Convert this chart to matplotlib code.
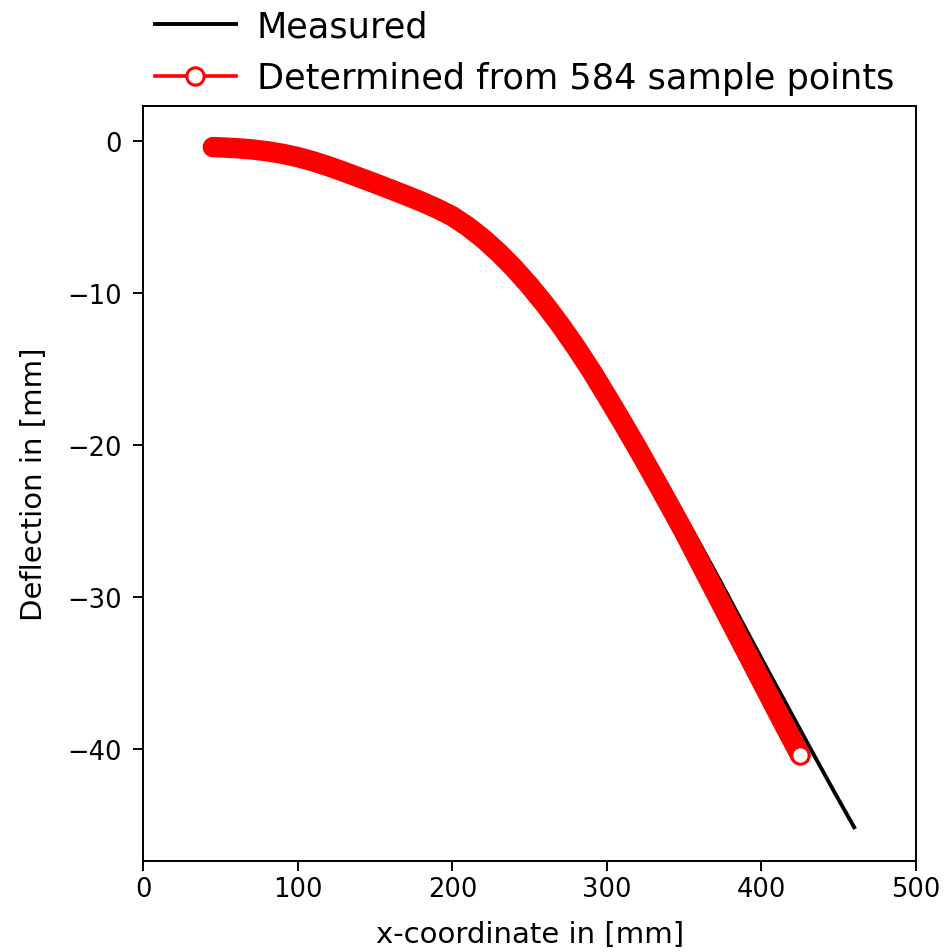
import numpy as np
import matplotlib
matplotlib.use("Agg")
import matplotlib.pyplot as plt
from matplotlib.lines import Line2D

# measured deflection line
measured_x = [45, 50, 60, 70, 80, 90, 100, 110, 120, 130, 140, 150, 160, 170,
              180, 190, 200, 210, 220, 230, 240, 250, 260, 270, 280, 291, 302,
              313, 324.5, 340, 356, 372, 387.3, 403, 418.5, 434, 447, 460]
measured_y = [-0.40, -0.42, -0.47, -0.55, -0.67, -0.84, -1.06, -1.34, -1.67,
              -2.03, -2.41, -2.79, -3.18, -3.58, -3.99, -4.44, -4.95, -5.63,
              -6.43, -7.35, -8.38, -9.52, -10.77, -12.12, -13.58, -15.13, -16.75,
              -18.4, -20.25, -22.95, -25.74, -28.7, -31.62, -34.6, -37.5,
              -40.4, -42.8, -45.15]

# curve determined from the sample points
determined_x = [45, 50, 60, 70, 80, 90, 100, 110, 120, 130, 140, 150, 160, 170,
                180, 190, 200, 210, 220, 230, 240, 250, 260, 270, 280, 290, 300,
                310, 320, 330, 340, 350, 360, 370, 380, 390, 400, 410, 425]
determined_y = [-0.40, -0.42, -0.47, -0.55, -0.67, -0.84, -1.06, -1.34, -1.67,
                -2.03, -2.41, -2.79, -3.18, -3.58, -3.99, -4.44, -4.95, -5.63,
                -6.43, -7.35, -8.38, -9.52, -10.77, -12.12, -13.58, -15.13, -16.8,
                -18.5, -20.25, -22.05, -23.88, -25.74, -27.7, -29.66, -31.62,
                -33.58, -35.54, -37.5, -40.4]

n_samples = 584

DPI = 100
fig = plt.figure(figsize=(9.49, 9.53), dpi=DPI)
ax = fig.add_axes([0.151, 0.0958, 0.9652 - 0.151, 0.888 - 0.0958])

ax.plot(measured_x, measured_y, color="black", lw=2.8, zorder=2)

# dense markers in the original merge into a solid band
ax.plot(determined_x, determined_y, color="red", lw=14.7,
        solid_capstyle="round", solid_joinstyle="round", zorder=3)
ax.plot(determined_x[-1:], determined_y[-1:], "o", color="red",
        markerfacecolor="white", markersize=12.5, markeredgewidth=2.2, zorder=4)

ax.set_xlim(0, 500)
ax.set_ylim(-47.35, 2.32)
ax.set_xticks([0, 100, 200, 300, 400, 500])
ax.set_yticks([0, -10, -20, -30, -40])

ax.tick_params(labelsize=18.5, length=7.5, width=1.4)
ax.tick_params(axis="y", pad=8)
ax.tick_params(axis="x", pad=3.5)
for s in ax.spines.values():
    s.set_linewidth(1.4)

ax.set_xlabel("x-coordinate in [mm]", fontsize=21, labelpad=13)
ax.set_ylabel("Deflection in [mm]", fontsize=21, labelpad=13.5)

handles = [
    Line2D([], [], color="black", lw=2.8),
    Line2D([], [], color="red", lw=2.6, marker="o", markerfacecolor="white",
           markersize=12.5, markeredgewidth=2.2),
]
labels = ["Measured", f"Determined from {n_samples} sample points"]
fig.legend(handles, labels, loc="lower left", bbox_to_anchor=(155 / 949, 1 - 96 / 953),
           frameon=False, fontsize=25.3, borderpad=0, borderaxespad=0,
           handlelength=2.3, handletextpad=0.6, labelspacing=0.5)

fig.savefig("out.png", dpi=DPI)
